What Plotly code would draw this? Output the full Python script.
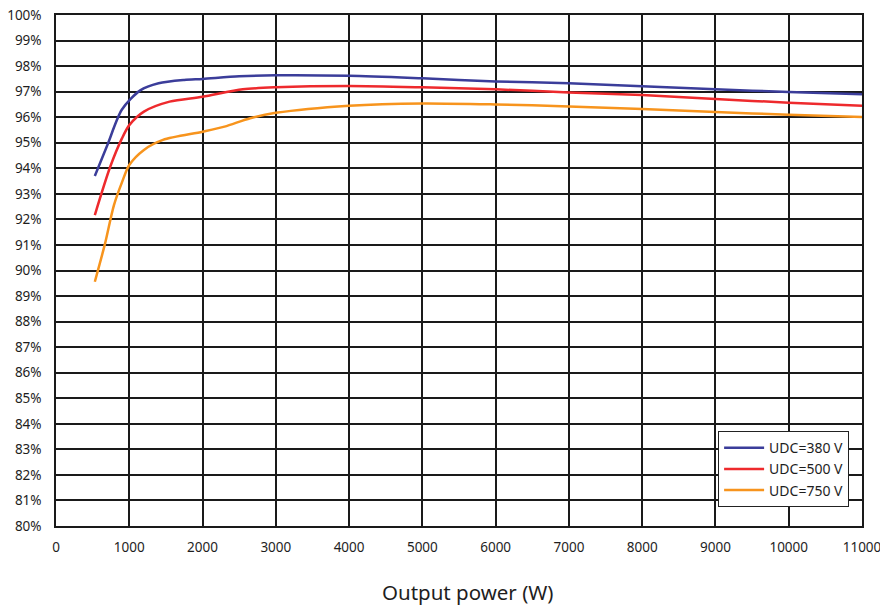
import plotly.graph_objects as go

# Data
x_380 = [530, 700, 900, 1150, 1400, 1750, 2000, 2500, 3000, 4000, 5000, 6000, 7000, 8000, 9000, 10000, 11000]
y_380 = [93.7, 94.9, 96.3, 97.05, 97.33, 97.46, 97.5, 97.6, 97.64, 97.62, 97.52, 97.4, 97.33, 97.21, 97.09, 96.99, 96.9]

x_500 = [530, 740, 900, 1000, 1200, 1550, 2000, 2550, 3000, 4000, 5000, 6000, 7000, 8000, 9000, 10000, 11000]
y_500 = [92.17, 94.06, 95.17, 95.69, 96.22, 96.61, 96.8, 97.09, 97.17, 97.22, 97.17, 97.09, 96.97, 96.87, 96.71, 96.57, 96.45]

x_750 = [530, 670, 790, 900, 1000, 1200, 1460, 2000, 2300, 2650, 3000, 4000, 5000, 6000, 7000, 8000, 9000, 10000, 11000]
y_750 = [89.56, 91.06, 92.55, 93.45, 94.13, 94.72, 95.11, 95.43, 95.63, 95.96, 96.17, 96.45, 96.54, 96.5, 96.42, 96.32, 96.2, 96.1, 96.01]

series_names = ["UDC=380 V", "UDC=500 V", "UDC=750 V"]
colors = ["#3b3d9a", "#ee2a2d", "#f7941d"]

x_ticks = list(range(0, 11001, 1000))
x_tick_labels = [str(v) for v in x_ticks]
y_ticks = list(range(80, 101))
y_tick_labels = [f"{v}%" for v in y_ticks]
x_title = "Output power (W)"

FONT = "Noto Sans"
TXT = "#1e1e1e"

fig = go.Figure()
for xs, ys, name, c in zip([x_380, x_500, x_750], [y_380, y_500, y_750], series_names, colors):
    fig.add_trace(go.Scatter(
        x=xs, y=ys, name=name, mode="lines",
        line=dict(color=c, width=2.5, shape="spline", smoothing=0.8),
    ))

fig.update_layout(
    width=880, height=607,
    margin=dict(l=56, r=18, t=15, b=81),
    paper_bgcolor="white", plot_bgcolor="white",
    font=dict(family=FONT, size=13.5, color=TXT),
    showlegend=True,
    legend=dict(
        x=0.984, y=0.037, xanchor="right", yanchor="bottom",
        bgcolor="white", bordercolor="#222222", borderwidth=1,
        font=dict(family=FONT, size=14, color=TXT),
        tracegroupgap=0, itemwidth=40,
    ),
    xaxis=dict(
        range=[0, 11000], tickvals=x_ticks, ticktext=x_tick_labels,
        showgrid=True, gridcolor="#1a1a1a", gridwidth=1.5,
        showline=True, linecolor="#1a1a1a", linewidth=1.5, mirror=True,
        zeroline=False, ticks="", ticklabelstandoff=8, automargin=False,
        ticklabeloverflow="allow",
    ),
    yaxis=dict(
        range=[80, 100], tickvals=y_ticks, ticktext=y_tick_labels,
        showgrid=True, gridcolor="#1a1a1a", gridwidth=1.5,
        showline=True, linecolor="#1a1a1a", linewidth=1.5, mirror=True,
        zeroline=False, ticks="", ticklabelstandoff=10, automargin=False,
        ticklabeloverflow="allow",
    ),
    annotations=[dict(
        text=x_title, xref="paper", yref="paper", x=0.511, y=-0.13,
        xanchor="center", yanchor="middle", showarrow=False,
        font=dict(family=FONT, size=20.5, color=TXT),
    )],
)

fig.write_html(
    "out.html",
    config={"displayModeBar": False},
    post_script="document.body.style.margin='0';document.body.style.overflow='hidden';",
)
